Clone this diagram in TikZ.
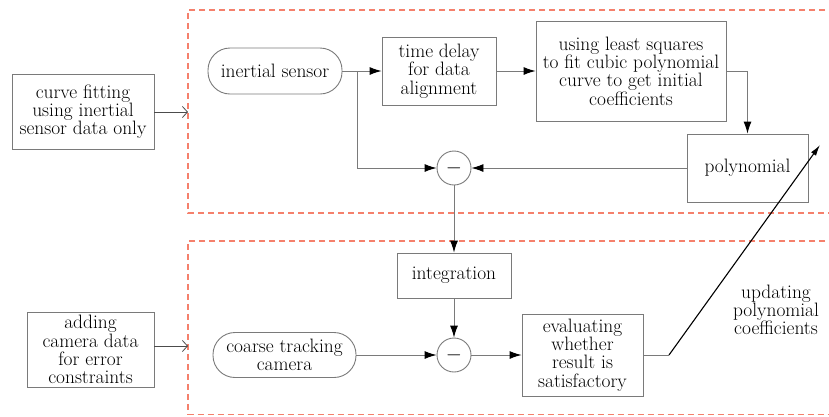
\documentclass[tikz,border=0pt]{standalone}
\usetikzlibrary{arrows.meta}
\definecolor{lg}{HTML}{7A7A7A}
\definecolor{dred}{HTML}{F5806C}
\begin{document}
\begin{tikzpicture}[x=1pt,y=-1pt,
  every node/.style={font=\fontsize{19.4}{18.3}\selectfont, align=center, inner sep=0pt},
  box/.style={draw=lg, line width=0.9pt, rectangle},
  rbox/.style={draw=lg, line width=0.9pt, rectangle, rounded corners=22pt},
  sumc/.style={draw=lg, line width=0.9pt, circle, minimum size=34pt},
  conn/.style={draw=lg, line width=0.9pt, -{Latex[length=12pt,width=8pt,color=black]}},
  lconn/.style={draw=black!70, line width=0.8pt, -{Straight Barb[length=5pt,width=11pt]}},
  zone/.style={draw=dred, line width=1.1pt, dash pattern=on 6pt off 4pt}]
\useasboundingbox (0,0) rectangle (829,416);
% zones
\draw[zone] (835,10) -- (188,10) -- (188,213) -- (835,213);
\draw[zone] (835,241) -- (188,241) -- (188,414.5) -- (835,414.5);
% nodes
\node[box, minimum width=142pt, minimum height=75pt] (cf) at (83,111.5) {curve fitting\\using inertial\\sensor data only};
\node[box, minimum width=127pt, minimum height=75pt] (ac) at (90.5,349.5) {adding\\camera data\\for error\\constraints};
\node[rbox, minimum width=134pt, minimum height=46pt] (is) at (275,71) {inertial sensor};
\node[box, minimum width=114pt, minimum height=68pt] (td) at (439,71) {time delay\\for data\\alignment};
\node[box, minimum width=190pt, minimum height=100pt] (ls) at (631,71) {using least squares\\to fit cubic polynomial\\curve to get initial\\coefficients};
\node[box, minimum width=121pt, minimum height=68pt] (poly) at (747.5,168) {polynomial};
\node[sumc] (s1) at (454,168) {$-$};
\node[box, minimum width=114pt, minimum height=45pt] (int) at (454,275.5) {integration};
\node[sumc] (s2) at (454,355) {$-$};
\node[rbox, minimum width=143pt, minimum height=45pt] (cam) at (284.5,355) {coarse tracking\\camera};
\node[box, minimum width=121pt, minimum height=82pt] (ev) at (582.5,355) {evaluating\\whether\\result is\\satisfactory};
\node (upd) at (776,310) {updating\\polynomial\\coefficients};
% coordinates
\coordinate (e1) at (188,112);
\coordinate (e2) at (188,346);
\coordinate (br) at (357,71);
\coordinate (kn) at (669,355);
\coordinate (tip) at (820,145);
% connectors
\draw[lconn] (cf.east |- e1) -- (e1);
\draw[lconn] (ac.east |- e2) -- (e2);
\draw[conn] (is.east) -- (td.west);
\draw[conn] (br) |- (s1.west);
\draw[conn] (td.east) -- (ls.west);
\draw[conn] (ls.east) -| (poly.north);
\draw[conn] (poly.west) -- (s1.east);
\draw[conn] (s1.south) -- (int.north);
\draw[conn] (int.south) -- (s2.north);
\draw[conn] (cam.east) -- (s2.west);
\draw[conn] (s2.east) -- (ev.west);
\draw[draw=lg, line width=0.9pt] (ev.east) -- (kn);
\draw[draw=black, line width=1.1pt, -{Latex[length=11pt,width=6pt]}] (kn) -- (tip);
\end{tikzpicture}
\end{document}
